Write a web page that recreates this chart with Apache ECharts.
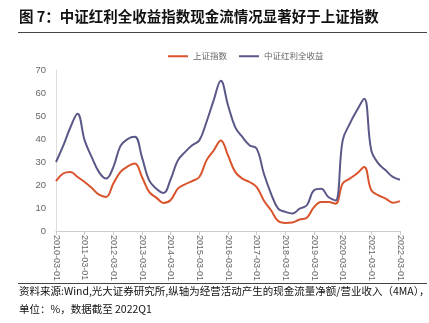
<!DOCTYPE html>
<html><head><meta charset="utf-8">
<script src="https://cdn.jsdelivr.net/npm/echarts@6/dist/echarts.min.js"></script>
<style>html,body{margin:0;padding:0;background:#fff}#c{width:429px;height:323px}</style>
</head><body><div id="c"></div>
<script>
const categories = [];
for (let y = 2010; y <= 2022; y++) {
  for (const m of ['03','06','09','12']) {
    if (y === 2022 && m !== '03') break;
    categories.push(y + '-' + m + '-01');
  }
}
const seriesNames = ['上证指数', '中证红利全收益'];
const shValues = [21.7,25,25.7,23.5,21.3,18.7,15.8,14.8,20.6,25.7,28.1,29.3,23.5,17,14.5,12.2,
  13.5,18.4,20.3,21.7,23.5,30.7,35,39.4,32.9,25.7,22.8,21.3,19.1,13.3,9,4.3,
  3.5,3.7,5,5.8,10.4,12.6,12.6,11.9,20.6,22.8,25,27.8,17.7,15.5,14.1,12.3,13];
const hlValues = [30,37,45,51,39.4,32,25.6,22.8,27.8,37,40,41,32,22,18.4,16.5,
  22.5,30.7,34.3,37.3,39.4,47.4,56.8,65.3,54.7,45.2,40.9,37.3,35.8,25,16.3,9.7,
  8.3,7.6,9.7,11.2,17.7,18.4,14.8,13.3,39.4,46.7,52.5,57.5,35,29.3,26.4,23.5,22.3];
const yTicks = [0,10,20,30,40,50,60,70];

const chart = echarts.init(document.getElementById('c'), null, {renderer:'canvas'});
const font = '"Noto Sans CJK SC", "Noto Sans", sans-serif';
chart.setOption({
  animation: false,
  textStyle: {fontFamily: font},
  graphic: [
    {type:'text', left:19, top:9, style:{text:'图 7：中证红利全收益指数现金流情况显著好于上证指数', font:'bold 14.5px ' + font, fill:'#111'}},
    {type:'line', shape:{x1:18, y1:32.5, x2:427, y2:32.5}, style:{stroke:'#444', lineWidth:1}},
    {type:'line', shape:{x1:18, y1:283.5, x2:427, y2:283.5}, style:{stroke:'#444', lineWidth:1}},
    {type:'text', left:19, top:286, style:{text:'资料来源:Wind,光大证券研究所,纵轴为经营活动产生的现金流量净额/营业收入（4MA），', font:'10.5px ' + font, fill:'#111'}},
    {type:'text', left:19, top:304, style:{text:'单位：%，数据截至 2022Q1', font:'10.5px ' + font, fill:'#111'}}
  ],
  legend: {
    top: 47, left: 163, itemWidth: 20, itemHeight: 2, itemGap: 12,
    icon: 'rect',
    textStyle: {fontSize: 8.5, color: '#666', fontFamily: font},
    data: seriesNames
  },
  grid: {left: 56, right: 29, top: 70, bottom: 92, containLabel: false},
  xAxis: {
    type: 'category', data: categories, boundaryGap: false,
    axisLine: {lineStyle: {color: '#ccc'}},
    axisTick: {show: true, interval: 3, length: 4, lineStyle: {color: '#ccc'}},
    axisLabel: {interval: 3, rotate: -90, fontSize: 9, color: '#666', margin: 4, fontFamily: 'Liberation Sans, Arial, sans-serif'}
  },
  yAxis: {
    type: 'value', min: yTicks[0], max: yTicks[yTicks.length-1], interval: 10,
    axisLine: {show: true, lineStyle: {color: '#ddd'}},
    axisTick: {show: false},
    splitLine: {show: false},
    axisLabel: {fontSize: 9.5, color: '#666', margin: 10, fontFamily: 'Liberation Sans, Arial, sans-serif'}
  },
  series: [
    {name: seriesNames[0], type: 'line', data: shValues, smooth: 0.4, showSymbol: false,
     lineStyle: {color: '#d9532c', width: 2}, itemStyle: {color: '#d9532c'}},
    {name: seriesNames[1], type: 'line', data: hlValues, smooth: 0.4, showSymbol: false,
     lineStyle: {color: '#5a5888', width: 2}, itemStyle: {color: '#5a5888'}}
  ]
});
</script></body></html>
